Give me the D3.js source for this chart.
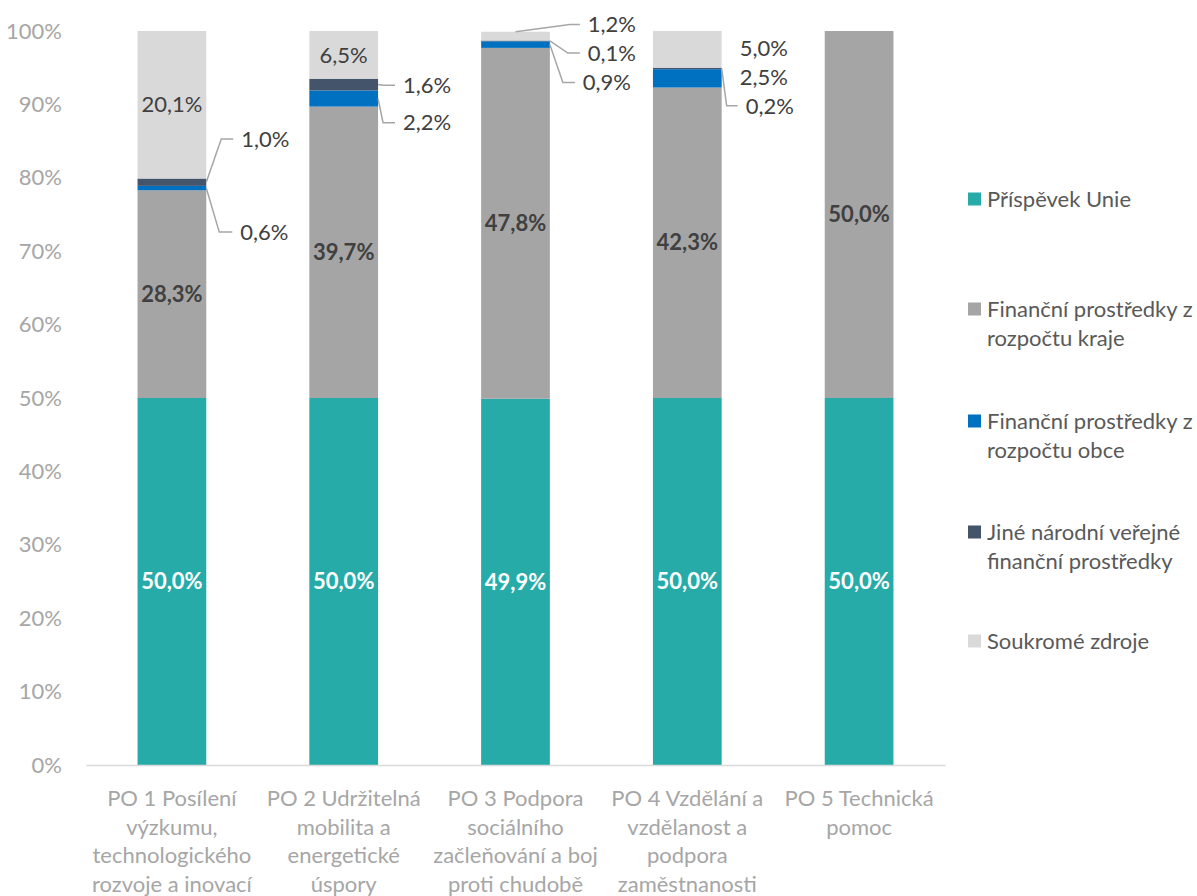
<!DOCTYPE html>
<html>
<head>
<meta charset="utf-8">
<script src="https://cdnjs.cloudflare.com/ajax/libs/d3/7.8.5/d3.min.js"></script>
<style>
  body { margin: 0; background: #fff; }
  svg text { font-family: Lato, "Open Sans", sans-serif; }
</style>
</head>
<body>
<div id="chart"></div>
<script>
// data (shares in %)
var categories = [
    "PO 1 Posílení výzkumu, technologického rozvoje a inovací",
    "PO 2 Udržitelná mobilita a energetické úspory",
    "PO 3 Podpora sociálního začleňování a boj proti chudobě",
    "PO 4 Vzdělání a vzdělanost a podpora zaměstnanosti",
    "PO 5 Technická pomoc"
];
var seriesNames = [
    "Příspěvek Unie",
    "Finanční prostředky z rozpočtu kraje",
    "Finanční prostředky z rozpočtu obce",
    "Jiné národní veřejné finanční prostředky",
    "Soukromé zdroje"
];
var unie     = [50.0, 50.0, 49.9, 50.0, 50.0];
var kraj     = [28.3, 39.7, 47.8, 42.3, 50.0];
var obce     = [0.6, 2.2, 0.9, 2.5, 0];
var jine     = [1.0, 1.6, 0.1, 0.2, 0];
var soukrome = [20.1, 6.5, 1.2, 5.0, 0];
var yTicks = [0, 10, 20, 30, 40, 50, 60, 70, 80, 90, 100];

var colors = ["#27aba9", "#a5a5a5", "#0070c0", "#44546a", "#d9d9d9"];

// which labels sit outside the bar (at = label height in % units)
var outsideLabels = [
    {cat: 0, s: 3, at: 85.3, elbow: 15, end: 27},
    {cat: 0, s: 2, at: 72.6, elbow: 13, end: 26},
    {cat: 1, s: 3, at: 92.6, elbow: 5, end: 17},
    {cat: 1, s: 2, at: 87.5, elbow: 5, end: 17},
    {cat: 2, s: 4, at: 100.9, elbow: 20, end: 30, fromTop: true},
    {cat: 2, s: 3, at: 97.0, elbow: 18, end: 30},
    {cat: 2, s: 2, at: 93.0, elbow: 13, end: 25},
    {cat: 3, s: 4, at: 97.6, end: 10, noLine: true},
    {cat: 3, s: 2, at: 93.7, end: 10, noLine: true},
    {cat: 3, s: 3, at: 89.8, elbow: 5, end: 16}
];

var fontSize = 22;
var W = 1197, H = 896;
var margin = {top: 31, right: 252, bottom: 131, left: 86};
var width = W - margin.left - margin.right;
var height = H - margin.top - margin.bottom;

var svg = d3.select("#chart").append("svg")
    .attr("width", W)
    .attr("height", H)
    .style("background", "#fff")
    .append("g")
    .attr("transform", "translate(" + margin.left + "," + margin.top + ")");

var series = [unie, kraj, obce, jine, soukrome];
var table = categories.map(function (c, i) {
    var row = {cat: c};
    series.forEach(function (arr, s) { row["s" + s] = arr[i]; });
    return row;
});
var keys = series.map(function (d, s) { return "s" + s; });
var stacked = d3.stack().keys(keys)(table);

var x = d3.scaleBand()
    .domain(categories)
    .range([0, width])
    .paddingInner(0.6)
    .paddingOuter(0.3);

var y = d3.scaleLinear()
    .domain([0, 100])
    .range([height, 0]);

function fmt(v) { return v.toFixed(1).replace(".", ",") + "%"; }

// y axis labels
var yaxis = d3.axisLeft(y)
    .tickValues(yTicks)
    .tickSize(0)
    .tickPadding(24)
    .tickFormat(function (d) { return d + "%"; });
var yg = svg.append("g").attr("class", "yaxis").call(yaxis);
yg.select(".domain").remove();
yg.selectAll("text")
    .attr("fill", "#a6a6a6")
    .attr("font-size", fontSize)
    .attr("font-family", "Lato");

// bars
var layers = svg.selectAll(".layer")
    .data(stacked)
    .enter()
    .append("g")
    .attr("class", "layer")
    .attr("fill", function (d, i) { return colors[i]; });

layers.selectAll("rect")
    .data(function (d) { return d; })
    .enter()
    .append("rect")
    .attr("x", function (d) { return x(d.data.cat); })
    .attr("y", function (d) { return y(d[1]); })
    .attr("width", x.bandwidth())
    .attr("height", function (d) { return y(d[0]) - y(d[1]); });

// x axis line + wrapped labels
var xaxis = d3.axisBottom(x).tickSize(0).tickPadding(0);
var xg = svg.append("g")
    .attr("transform", "translate(0," + height + ")")
    .call(xaxis);
xg.select(".domain").attr("stroke", "#d9d9d9").attr("stroke-width", 1.5);
xg.selectAll("text").remove();

function wrapLines(str, maxW, size) {
    var tmp = svg.append("text").attr("font-size", size);
    var words = str.split(" "), lines = [], cur = "";
    words.forEach(function (w) {
        var test = cur ? cur + " " + w : w;
        tmp.text(test);
        if (tmp.node().getComputedTextLength() > maxW && cur) {
            lines.push(cur);
            cur = w;
        } else {
            cur = test;
        }
    });
    lines.push(cur);
    tmp.remove();
    return lines;
}

categories.forEach(function (c) {
    var lines = wrapLines(c, 176, fontSize);
    var t = svg.append("text")
        .attr("x", x(c) + x.bandwidth() / 2)
        .attr("y", height + 41)
        .attr("text-anchor", "middle")
        .attr("fill", "#a6a6a6")
        .attr("font-size", fontSize);
    lines.forEach(function (l, i) {
        t.append("tspan")
            .attr("x", x(c) + x.bandwidth() / 2)
            .attr("dy", i === 0 ? 0 : 28.5)
            .text(l);
    });
});

// labels inside the bars
stacked.forEach(function (layer, s) {
    layer.forEach(function (d, i) {
        var v = series[s][i];
        var inside = s === 0 || (s === 1 && v > 0) || (s === 4 && v > 6);
        if (!inside) return;
        svg.append("text")
            .attr("x", x(categories[i]) + x.bandwidth() / 2)
            .attr("y", y((d[0] + d[1]) / 2))
            .attr("dy", "0.35em")
            .attr("text-anchor", "middle")
            .attr("font-size", fontSize)
            .attr("font-weight", s === 4 ? "normal" : "bold")
            .attr("fill", s === 0 ? "#fff" : "#404040")
            .text(fmt(v));
    });
});

// labels outside the bars with leader lines
outsideLabels.forEach(function (o) {
    var seg = stacked[o.s][o.cat];
    var right = x(categories[o.cat]) + x.bandwidth();
    var ly = y(o.at);
    if (!o.noLine) {
        var start = o.fromTop
            ? [x(categories[o.cat]) + x.bandwidth() / 2, y(seg[1])]
            : [right, y((seg[0] + seg[1]) / 2)];
        svg.append("path")
            .attr("d", d3.line()([start, [right + o.elbow, ly], [right + o.end, ly]]))
            .attr("fill", "none")
            .attr("stroke", "#a6a6a6")
            .attr("stroke-width", 1.5);
    }
    svg.append("text")
        .attr("x", right + o.end + 8)
        .attr("y", ly)
        .attr("dy", "0.35em")
        .attr("font-size", fontSize)
        .attr("fill", "#404040")
        .text(fmt(series[o.s][o.cat]));
});

// legend
var legend = svg.append("g")
    .attr("transform", "translate(" + (width + 23) + ",0)");
var legendY = [168, 278, 390, 501, 610];
seriesNames.forEach(function (name, i) {
    var g = legend.append("g").attr("transform", "translate(0," + legendY[i] + ")");
    g.append("rect")
        .attr("x", 0).attr("y", -6.5)
        .attr("width", 13).attr("height", 13)
        .attr("fill", colors[i]);
    var lines = wrapLines(name, 215, fontSize);
    var t = g.append("text")
        .attr("x", 19)
        .attr("y", 0)
        .attr("font-size", fontSize)
        .attr("fill", "#595959");
    lines.forEach(function (l, j) {
        t.append("tspan").attr("x", 19).attr("dy", j === 0 ? "0.35em" : 29).text(l);
    });
});
</script>
</body>
</html>
